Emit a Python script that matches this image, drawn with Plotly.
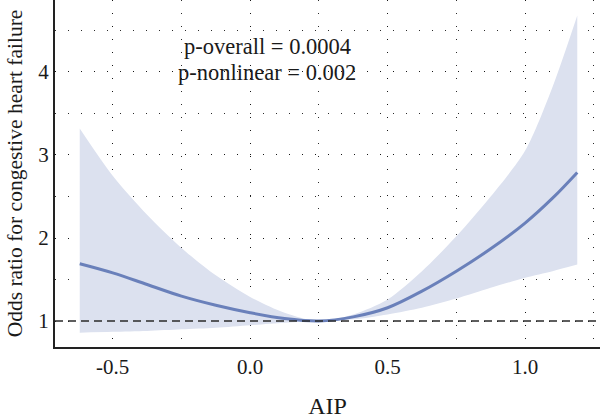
import plotly.graph_objects as go

# Data
aip = [-0.62, -0.5, -0.375, -0.25, -0.125, 0.0, 0.125, 0.25, 0.375, 0.5, 0.625, 0.75, 0.875, 1.0, 1.1, 1.19]
odds_ratio = [1.69, 1.58, 1.44, 1.30, 1.19, 1.10, 1.03, 1.00, 1.05, 1.16, 1.36, 1.60, 1.87, 2.18, 2.48, 2.79]
ci_upper = [3.32, 2.75, 2.28, 1.88, 1.55, 1.29, 1.10, 1.00, 1.08, 1.26, 1.60, 2.02, 2.50, 3.05, 3.82, 4.68]
ci_lower = [0.86, 0.87, 0.88, 0.90, 0.92, 0.95, 0.98, 1.00, 1.02, 1.08, 1.16, 1.27, 1.40, 1.52, 1.60, 1.68]

x_tickvals = [-0.5, 0.0, 0.5, 1.0]
x_ticktext = ["-0.5", "0.0", "0.5", "1.0"]
y_tickvals = [1, 2, 3, 4]
y_ticktext = ["1", "2", "3", "4"]
annot_lines = ["p-overall = 0.0004", "p-nonlinear = 0.002"]

FONT = "Liberation Serif"
fill_col = "rgb(220,225,239)"
line_col = "rgb(106,128,186)"
grid_col = "rgba(20,20,20,0.9)"
txt_col = "#1a1a1a"

fig = go.Figure()
fig.add_trace(go.Scatter(x=aip, y=ci_lower, mode="lines", line=dict(width=0, shape="spline", smoothing=0.8, color=fill_col),
                         showlegend=False, hoverinfo="skip"))
fig.add_trace(go.Scatter(x=aip, y=ci_upper, mode="lines", line=dict(width=0, shape="spline", smoothing=0.8, color=fill_col),
                         fill="tonexty", fillcolor=fill_col, showlegend=False, hoverinfo="skip"))
fig.add_trace(go.Scatter(x=aip, y=odds_ratio, mode="lines", line=dict(width=3, shape="spline", color=line_col),
                         showlegend=False))

fig.add_hline(y=1, line=dict(color="#2a2a2a", width=1.6, dash="8px,5px"), layer="above")

fig.add_annotation(x=0.062, y=4.305, text=annot_lines[0], showarrow=False,
                   font=dict(family=FONT, size=22.5, color=txt_col))
fig.add_annotation(x=0.062, y=3.99, text=annot_lines[1], showarrow=False,
                   font=dict(family=FONT, size=22.5, color=txt_col))

fig.update_xaxes(range=[-0.71, 1.2727], tickvals=x_tickvals, ticktext=x_ticktext,
                 showgrid=True, gridcolor=grid_col, gridwidth=1.3, griddash="1px,12px",
                 minor=dict(dtick=0.25, tick0=0, showgrid=True, gridcolor=grid_col, gridwidth=1.3, griddash="1px,12px"),
                 showline=True, linecolor="#222", linewidth=2, zeroline=False, ticks="",
                 tickfont=dict(family=FONT, size=21, color=txt_col),
                 title=dict(text="AIP", font=dict(family=FONT, size=24, color=txt_col), standoff=19))
fig.update_yaxes(range=[0.687, 4.867], tickvals=y_tickvals, ticktext=y_ticktext,
                 showgrid=True, gridcolor=grid_col, gridwidth=1.3, griddash="1px,12px",
                 minor=dict(dtick=0.5, tick0=0, showgrid=True, gridcolor=grid_col, gridwidth=1.3, griddash="1px,12px"),
                 showline=True, linecolor="#222", linewidth=2, zeroline=False, ticks="",
                 tickfont=dict(family=FONT, size=21, color=txt_col),
                 title=dict(text="Odds ratio for congestive heart failure",
                            font=dict(family=FONT, size=21.5, color=txt_col), standoff=10))

fig.update_layout(width=600, height=419, margin=dict(l=55, r=0, t=0, b=72),
                  plot_bgcolor="white", paper_bgcolor="white", showlegend=False)

fig.write_html("out.html")
